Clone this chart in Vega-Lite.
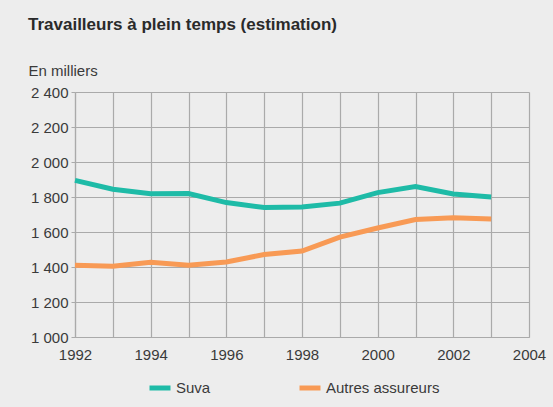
{
  "$schema": "https://vega.github.io/schema/vega-lite/v6.json",
  "width": 454,
  "height": 245,
  "autosize": {"type": "none"},
  "padding": {"left": 75, "top": 92, "right": 24, "bottom": 70},
  "background": "#ededed",
  "config": {
    "view": {"stroke": null},
    "font": "Liberation Sans",
    "axis": {"labelFont": "Liberation Sans", "labelFontSize": 15, "labelColor": "#3a3a3a", "gridColor": "#aaaaaa", "gridWidth": 1.2, "domainColor": "#aaaaaa", "domainWidth": 1.2, "tickColor": "#aaaaaa"}
  },
  "title": {
    "text": "Travailleurs à plein temps (estimation)",
    "anchor": "start",
    "frame": "bounds",
    "font": "Liberation Sans",
    "fontSize": 17,
    "fontWeight": "bold",
    "color": "#2a2a2a",
    "baseline": "alphabetic",
    "offset": 16
  },
  "data": {
    "values": [
      {"year": 1992, "serie": "Suva", "value": 1895},
      {"year": 1993, "serie": "Suva", "value": 1844},
      {"year": 1994, "serie": "Suva", "value": 1819},
      {"year": 1995, "serie": "Suva", "value": 1820},
      {"year": 1996, "serie": "Suva", "value": 1768},
      {"year": 1997, "serie": "Suva", "value": 1740},
      {"year": 1998, "serie": "Suva", "value": 1743},
      {"year": 1999, "serie": "Suva", "value": 1765},
      {"year": 2000, "serie": "Suva", "value": 1825},
      {"year": 2001, "serie": "Suva", "value": 1860},
      {"year": 2002, "serie": "Suva", "value": 1817},
      {"year": 2003, "serie": "Suva", "value": 1800},
      {"year": 1992, "serie": "Autres assureurs", "value": 1410},
      {"year": 1993, "serie": "Autres assureurs", "value": 1404},
      {"year": 1994, "serie": "Autres assureurs", "value": 1427},
      {"year": 1995, "serie": "Autres assureurs", "value": 1410},
      {"year": 1996, "serie": "Autres assureurs", "value": 1429},
      {"year": 1997, "serie": "Autres assureurs", "value": 1471},
      {"year": 1998, "serie": "Autres assureurs", "value": 1491},
      {"year": 1999, "serie": "Autres assureurs", "value": 1571},
      {"year": 2000, "serie": "Autres assureurs", "value": 1623},
      {"year": 2001, "serie": "Autres assureurs", "value": 1671},
      {"year": 2002, "serie": "Autres assureurs", "value": 1682},
      {"year": 2003, "serie": "Autres assureurs", "value": 1674}
    ]
  },
  "mark": {"type": "line", "strokeWidth": 5, "strokeJoin": "miter", "strokeCap": "butt"},
  "encoding": {
    "x": {
      "field": "year", "type": "quantitative",
      "scale": {"domain": [1992, 2004], "nice": false, "zero": false},
      "axis": {
        "title": null,
        "values": [1992, 1993, 1994, 1995, 1996, 1997, 1998, 1999, 2000, 2001, 2002, 2003, 2004],
        "labelExpr": "datum.value % 2 == 0 ? format(datum.value, 'd') : ''",
        "ticks": false,
        "labelPadding": 10,
        "labelFlush": false,
        "labelOverlap": false
      }
    },
    "y": {
      "field": "value", "type": "quantitative",
      "scale": {"domain": [1000, 2400], "nice": false, "zero": false},
      "axis": {
        "title": "En milliers",
        "titleAngle": 0,
        "titleX": -47,
        "titleY": -17,
        "titleAlign": "left",
        "titleBaseline": "alphabetic",
        "titleFont": "Liberation Sans",
        "titleFontSize": 15,
        "titleFontWeight": "normal",
        "titleColor": "#3a3a3a",
        "values": [1000, 1200, 1400, 1600, 1800, 2000, 2200, 2400],
        "labelExpr": "replace(format(datum.value, ','), ',', ' ')",
        "tickSize": 4,
        "labelPadding": 3,
        "labelFlush": false
      }
    },
    "color": {
      "field": "serie", "type": "nominal",
      "scale": {"domain": ["Suva", "Autres assureurs"], "range": ["#1ebba7", "#f89a55"]},
      "legend": {
        "title": null,
        "orient": "none",
        "direction": "horizontal",
        "legendX": 72,
        "legendY": 283,
        "symbolType": "stroke",
        "symbolSize": 441,
        "symbolStrokeWidth": 5,
        "labelFont": "Liberation Sans",
        "labelFontSize": 15,
        "labelColor": "#3a3a3a",
        "labelOffset": 3,
        "columnPadding": 78
      }
    }
  }
}
